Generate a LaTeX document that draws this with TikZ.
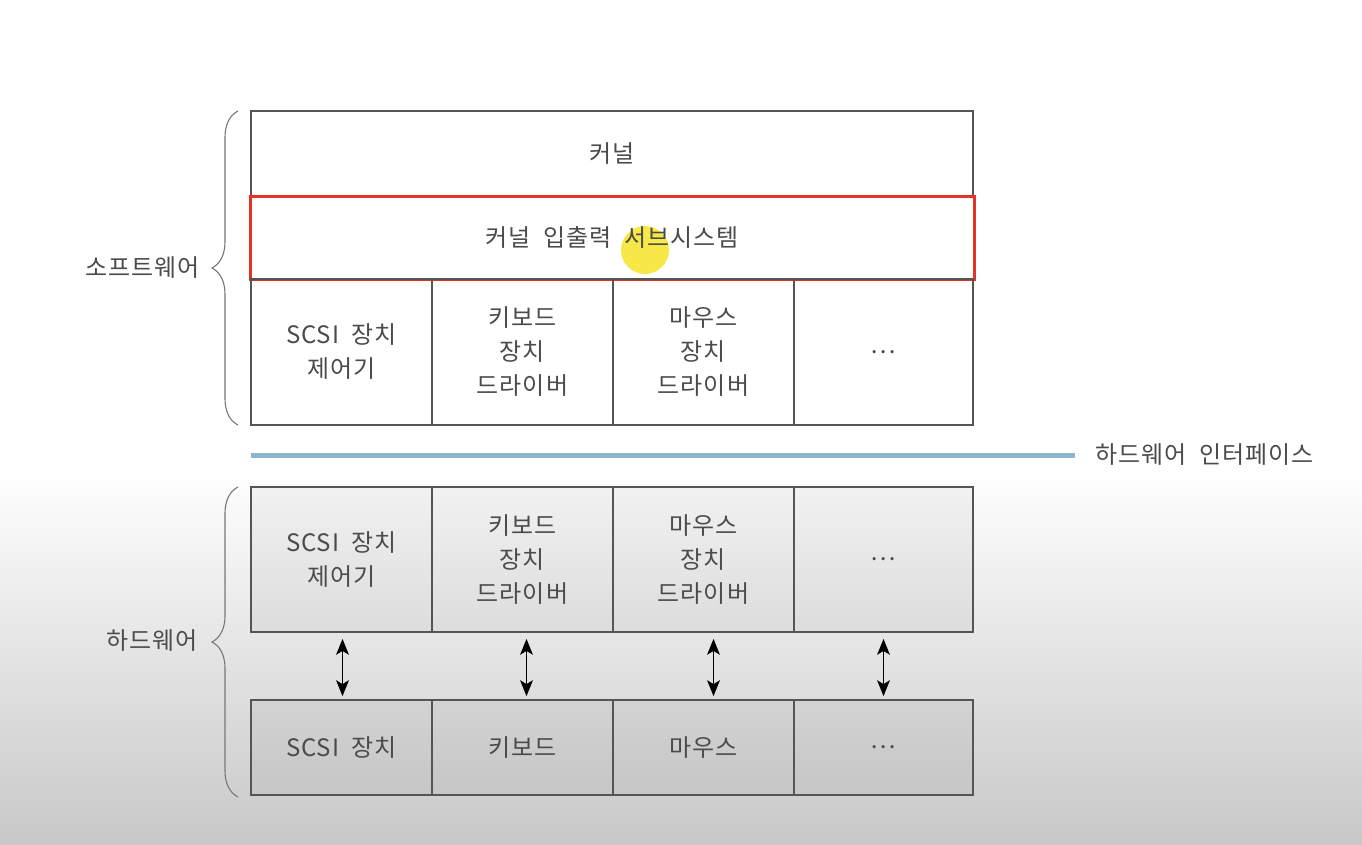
\documentclass[tikz,border=0pt]{standalone}
\usepackage{fontspec}
\setmainfont[LetterSpace=4, WordSpace=2]{Noto Sans CJK KR}
\usetikzlibrary{decorations.pathreplacing}
\definecolor{txt}{RGB}{75,75,75}
\definecolor{linec}{RGB}{85,85,85}
\definecolor{redc}{RGB}{228,50,38}
\definecolor{bluec}{RGB}{140,182,206}
\definecolor{bgbot}{RGB}{200,200,200}
\definecolor{hlc}{RGB}{246,228,40}
\begin{document}
\begin{tikzpicture}[x=1pt,y=-1pt,
  cellbox/.style={draw=linec, line width=1.8pt, inner sep=0pt, align=center,
    text=txt, font=\fontsize{24}{34}\selectfont},
  hwbox/.style={cellbox, fill=black, fill opacity=0.045, text opacity=1},
  lbl/.style={text=txt, font=\fontsize{24}{34}\selectfont, inner sep=0pt},
  brc/.style={draw=linec!80, line width=1.1pt, decorate, decoration={brace, amplitude=26pt}},
  conn/.style={line width=1.3pt, draw=black},
  pics/tipup/.style={code={\fill[black] (0,0) -- (-6.5,16) -- (0,12) -- (6.5,16) -- cycle;}},
  pics/tipdown/.style={code={\fill[black] (0,0) -- (-6.5,-16) -- (0,-12) -- (6.5,-16) -- cycle;}}]
\useasboundingbox (0,0) rectangle (1362,844);
\fill[white] (0,0) rectangle (1362,844);
\shade[top color=white, bottom color=bgbot] (0,470) rectangle (1362,844);

% software block
\node[cellbox, minimum width=722pt, minimum height=85pt] (kernel) at (612,153.5) {커널};
\fill[hlc, opacity=0.85] (645,250) circle (24pt);
\node[cellbox, draw=redc, line width=3pt, minimum width=724pt, minimum height=83pt] (kio) at (612,237.5) {커널 입출력 서브시스템};
\node[cellbox, minimum width=181pt, minimum height=146pt] (s1) at (341.5,352) {SCSI 장치\\제어기};
\node[cellbox, minimum width=181pt, minimum height=146pt] (s2) at (522.5,352) {키보드\\장치\\드라이버};
\node[cellbox, minimum width=181pt, minimum height=146pt] (s3) at (703.5,352) {마우스\\장치\\드라이버};
\node[cellbox, minimum width=179pt, minimum height=146pt] (s4) at (883.5,352) {…};

% hardware interface line
\node[lbl, anchor=west] (iface) at (1095,455) {하드웨어 인터페이스};
\coordinate (bl) at (251,455);
\draw[bluec, line width=5pt] (bl) -- ([xshift=-20pt]iface.west);

% hardware block
\node[hwbox, minimum width=181pt, minimum height=145pt] (h1) at (341.5,559.5) {SCSI 장치\\제어기};
\node[hwbox, minimum width=181pt, minimum height=145pt] (h2) at (522.5,559.5) {키보드\\장치\\드라이버};
\node[hwbox, minimum width=181pt, minimum height=145pt] (h3) at (703.5,559.5) {마우스\\장치\\드라이버};
\node[hwbox, minimum width=179pt, minimum height=145pt] (h4) at (883.5,559.5) {…};

\node[hwbox, minimum width=181pt, minimum height=95pt] (d1) at (341.5,747.5) {SCSI 장치};
\node[hwbox, minimum width=181pt, minimum height=95pt] (d2) at (522.5,747.5) {키보드};
\node[hwbox, minimum width=181pt, minimum height=95pt] (d3) at (703.5,747.5) {마우스};
\node[hwbox, minimum width=179pt, minimum height=95pt] (d4) at (883.5,747.5) {…};

% double-headed connectors
\foreach \h/\d/\s in {h1/d1/1pt, h2/d2/4pt, h3/d3/10pt, h4/d4/0pt}{
  \draw[conn] ([xshift=\s,yshift=-14pt]\h.south) -- ([xshift=\s,yshift=12pt]\d.north);
  \path ([xshift=\s,yshift=-6pt]\h.south) pic {tipup};
  \path ([xshift=\s,yshift=3pt]\d.north) pic {tipdown};
}

% braces and labels
\draw[brc] (238,425) -- (238,111);
\node[lbl, anchor=east] (sw) at (200,268) {소프트웨어};
\draw[brc] (238,797) -- (238,487);
\node[lbl, anchor=east] (hw) at (198,641) {하드웨어};
\end{tikzpicture}
\end{document}
